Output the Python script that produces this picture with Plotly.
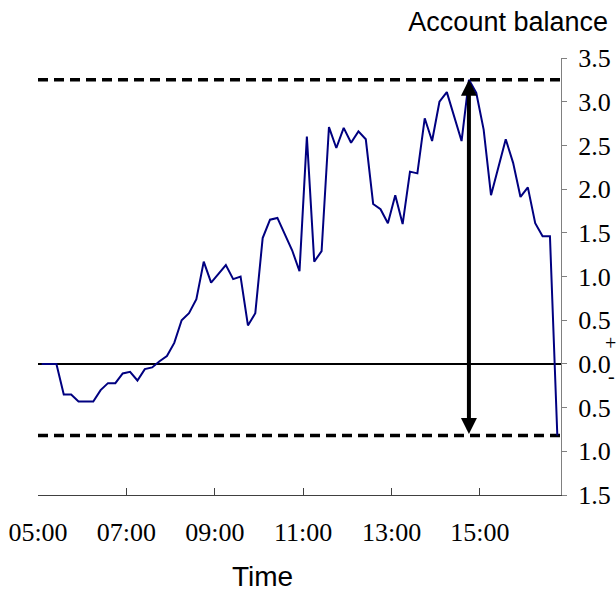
import pandas as pd
import plotly.graph_objects as go

# Account balance sampled every 10 minutes from 05:05 to 16:45
start_time = "2024-01-01 05:05"
balance = [
    0.00, 0.00, 0.00, -0.35, -0.35, -0.43, -0.43, -0.43, -0.30, -0.22,
    -0.22, -0.11, -0.09, -0.19, -0.06, -0.04, 0.03, 0.09, 0.24, 0.50,
    0.58, 0.74, 1.17, 0.93, 1.03, 1.13, 0.97, 1.00, 0.44, 0.58,
    1.44, 1.65, 1.67, 1.49, 1.30, 1.06, 2.60, 1.17, 1.29, 2.71,
    2.47, 2.70, 2.53, 2.66, 2.57, 1.83, 1.77, 1.61, 1.93, 1.60,
    2.20, 2.18, 2.81, 2.55, 3.00, 3.11, 2.83, 2.55, 3.25, 3.10,
    2.68, 1.93, 2.25, 2.57, 2.30, 1.91, 2.02, 1.61, 1.46, 1.46,
    -0.82,
]
times = pd.date_range(start_time, periods=len(balance), freq="10min")

x_range = ["2024-01-01 05:00", "2024-01-01 16:50"]
x_tick_vals = ["2024-01-01 05:00", "2024-01-01 07:00", "2024-01-01 09:00",
               "2024-01-01 11:00", "2024-01-01 13:00", "2024-01-01 15:00"]
x_tick_text = ["05:00", "07:00", "09:00", "11:00", "13:00", "15:00"]

y_tick_vals = [-1.5, -1.0, -0.5, 0.0, 0.5, 1.0, 1.5, 2.0, 2.5, 3.0, 3.5]
y_tick_text = ["1.5", "1.0", "0.5", "0.0", "0.5", "1.0", "1.5", "2.0", "2.5", "3.0", "3.5"]

v_max = max(balance)
v_min = min(balance)
t_max = times[balance.index(v_max)]

serif = "Liberation Serif"
sans = "Liberation Sans"

# Plot area in pixels: left 38, right 561, top 58, bottom 495
PL, PR, PT, PB = 38, 561, 58, 495
W, H = 616, 591


def px(xp):
    return (xp - PL) / (PR - PL)


def py(yp):
    return (PB - yp) / (PB - PT)


fig = go.Figure()

# Peak and trough reference levels
for level in (v_max, v_min):
    fig.add_trace(go.Scatter(
        x=x_range, y=[level, level], mode="lines",
        line=dict(color="black", width=3.5, dash="10px,6px"),
        hoverinfo="skip", showlegend=False,
    ))

fig.add_trace(go.Scatter(
    x=times, y=balance, mode="lines",
    line=dict(color="#000080", width=2),
    showlegend=False,
))

# Drawdown arrow from peak to trough
fig.add_annotation(
    x=t_max, y=v_max, ax=t_max, ay=v_min,
    xref="x", yref="y", axref="x", ayref="y",
    text="", showarrow=True, arrowside="end+start",
    arrowhead=2, arrowsize=0.8, arrowwidth=4, arrowcolor="black",
    standoff=0, startstandoff=0,
)

fig.add_annotation(
    text="Time", xref="paper", yref="paper", x=px(262), y=py(576),
    xanchor="center", yanchor="middle", showarrow=False,
    font=dict(family=sans, size=28, color="black"),
)
fig.add_annotation(
    text="+", xref="paper", yref="paper", x=px(610), y=py(343),
    xanchor="center", yanchor="middle", showarrow=False,
    font=dict(family=serif, size=20, color="black"),
)
fig.add_annotation(
    text="-", xref="paper", yref="paper", x=px(611), y=py(376),
    xanchor="center", yanchor="middle", showarrow=False,
    font=dict(family=serif, size=20, color="black"),
)

fig.update_layout(
    width=W, height=H,
    margin=dict(l=PL, r=W - PR, t=PT, b=H - PB, autoexpand=False),
    plot_bgcolor="white", paper_bgcolor="white",
    title=dict(
        text="Account balance", x=608 / W, xanchor="right",
        y=1 - 22 / H, yanchor="middle",
        font=dict(family=sans, size=27, color="black"),
        automargin=False,
    ),
    xaxis=dict(
        type="date", range=x_range,
        tickvals=x_tick_vals, ticktext=x_tick_text,
        ticks="inside", ticklen=7, tickcolor="#404040",
        showline=True, linecolor="#404040", linewidth=1,
        showgrid=False, zeroline=False, automargin=False,
        ticklabelstandoff=14,
        tickfont=dict(family=serif, size=26, color="black"),
    ),
    yaxis=dict(
        side="right", range=[-1.5, 3.5],
        tickvals=y_tick_vals, ticktext=y_tick_text,
        ticks="outside", ticklen=5, tickcolor="#808080",
        showline=True, linecolor="#808080", linewidth=1,
        showgrid=False, automargin=False,
        zeroline=True, zerolinecolor="black", zerolinewidth=2,
        ticklabelstandoff=6,
        tickfont=dict(family=serif, size=26, color="black"),
    ),
)

fig.write_html("out.html")
